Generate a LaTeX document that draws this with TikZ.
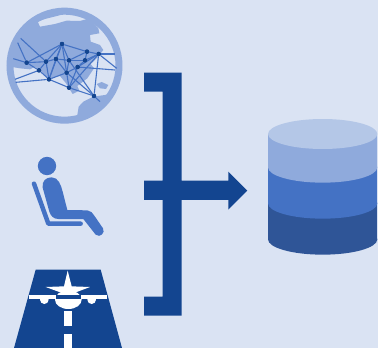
\documentclass[tikz,border=0pt]{standalone}
\definecolor{bgc}{HTML}{DAE3F3}
\definecolor{darkc}{HTML}{134590}
\definecolor{midc}{HTML}{4472C4}
\definecolor{lightc}{HTML}{8FAADC}
\definecolor{paler}{HTML}{B4C7E7}
\definecolor{deepc}{HTML}{2F5597}
\tikzset{
  zoomed/.style 2 args={shift={(#1pt,-#2pt)},x=0.33333pt,y=-0.33333pt},
  dot/.style={circle,fill=darkc,inner sep=0pt,minimum size=4.4pt},
  link/.style={draw=midc,line width=1.1pt},
}
\begin{document}
\begin{tikzpicture}[x=1pt,y=-1pt]
\fill[bgc] (0,0) rectangle (378,348);
\useasboundingbox (0,0) rectangle (378,348);
% globe
\begin{scope}[zoomed={0}{0}]
  \begin{scope}
    \clip (193.5,197) circle[radius=158];
    \fill[lightc] (0,195) -- (60,205) -- (90,208) -- (105,200) -- (125,215) -- (145,240) -- (160,232) -- (180,228) -- (198,250) -- (218,282) -- (238,272) -- (232,258) -- (262,235) -- (282,205) -- (272,192) -- (290,175) -- (310,150) -- (300,135) -- (272,125) -- (270,105) -- (298,100) -- (295,85) -- (268,55) -- (240,63) -- (200,62) -- (165,72) -- (120,80) -- (113,65) -- (135,57) -- (190,43) -- (190,0) -- (0,0) -- cycle;
    \fill[lightc] (290,252) -- (305,246) -- (325,255) -- (318,267) -- (300,265) -- cycle;
    \fill[lightc] (232,345) -- (236,320) -- (250,305) -- (280,290) -- (315,285) -- (370,270) -- (370,400) -- (232,400) -- cycle;
  \end{scope}
  \fill[lightc,even odd rule] (193.5,197) circle[radius=174] (193.5,197) circle[radius=153];
  \node[dot] (a) at (186,132) {};
  \node[dot] (b) at (261,155) {};
  \node[dot] (c) at (296,162) {};
  \node[dot] (d) at (255,181) {};
  \node[dot] (e) at (207,181) {};
  \node[dot] (f) at (168,177) {};
  \node[dot] (g) at (138,185) {};
  \node[dot] (h) at (80,188) {};
  \node[dot] (i) at (117,211) {};
  \node[dot] (j) at (233,201) {};
  \node[dot] (k) at (200,218) {};
  \node[dot] (l) at (147,238) {};
  \node[dot] (m) at (207,263) {};
  \node[dot] (n) at (282,288) {};
  \coordinate (e1) at (62,115);
  \coordinate (e2) at (53,128);
  \coordinate (e3) at (40,176);
  \coordinate (e4) at (45,238);
  \coordinate (e5) at (47,247);
  \coordinate (e6) at (345,162);
  \coordinate (e7) at (350,205);
  \coordinate (e8) at (345,210);
  \coordinate (e9) at (300,305);
  \foreach \p/\q in {h/a,g/e1,h/e2,h/e3,h/g,g/a,g/f,f/a,f/e,a/e,a/b,e/d,e/b,b/c,b/d,d/c,d/j,j/c,j/k,k/e,k/f,k/m,g/i,i/h,i/l,l/f,l/g,i/e4,l/e5,l/k,l/m,k/n,a/k,a/l,m/c,n/c,c/e6,c/e7,j/e8,m/n,e/n,n/e9,m/j}
    \draw[link] (\p) -- (\q);
  \foreach \p in {a,b,c,d,e,f,g,h,i,j,k,l,m,n}
    \fill[darkc] (\p) circle[radius=6.6];
\end{scope}
% seated person
\begin{scope}[zoomed={0}{145}]
  \fill[midc] (141,63) circle[radius=27.5];
  \fill[midc] (128,128) .. controls (125,108) and (138,97) .. (155,97) .. controls (175,97) and (183,120) .. (188,140) -- (202,195) -- (262,196) .. controls (272,196) and (278,205) .. (283,212) -- (309,250) .. controls (317,263) and (300,280) .. (287,269) -- (250,222) -- (175,222) .. controls (160,222) and (152,212) .. (148,200) -- cycle;
  \draw[midc,line width=4.5pt,line cap=round,line join=round] (102,116) -- (145,236) -- (242,236);
\end{scope}
% runway
\begin{scope}[zoomed={0}{258}]
  \fill[darkc] (107,35) -- (302,35) -- (366,270) -- (42,270) -- cycle;
  \fill[white] (203,38) -- (215,85) -- (270,87) -- (230,102) -- (178,102) -- (137,87) -- (192,85) -- cycle;
  \fill[white] (87,110) rectangle (322,123);
  \fill[white] (205,125) ellipse[x radius=40,y radius=28];
  \fill[white] (133,125) circle[radius=13];
  \fill[white] (275,125) circle[radius=13];
  \fill[darkc] (167,110) rectangle (243,123);
  \fill[white] (192,158) rectangle (216,204);
  \fill[white] (192,228) rectangle (216,270);
\end{scope}
% bracket and arrow
\begin{scope}[zoomed={130}{60}]
  \fill[darkc] (42,38) -- (155,38) -- (155,362) -- (295,362) -- (295,335) -- (352,392) -- (295,449) -- (295,420) -- (155,420) -- (155,767) -- (42,767) -- (42,710) -- (98,710) -- (98,420) -- (42,420) -- (42,362) -- (98,362) -- (98,95) -- (42,95) -- cycle;
\end{scope}
% stacked cylinder
\begin{scope}[zoomed={258}{110}]
  \fill[deepc] (30,72) rectangle (358,388);
  \fill[deepc] (194,388) ellipse[x radius=164,y radius=46];
  \fill[midc] (30,72) rectangle (358,280);
  \fill[midc] (194,280) ellipse[x radius=164,y radius=46];
  \fill[lightc] (30,72) rectangle (358,172);
  \fill[lightc] (194,172) ellipse[x radius=164,y radius=46];
  \fill[paler] (194,72) ellipse[x radius=164,y radius=45];
\end{scope}
\end{tikzpicture}
\end{document}
